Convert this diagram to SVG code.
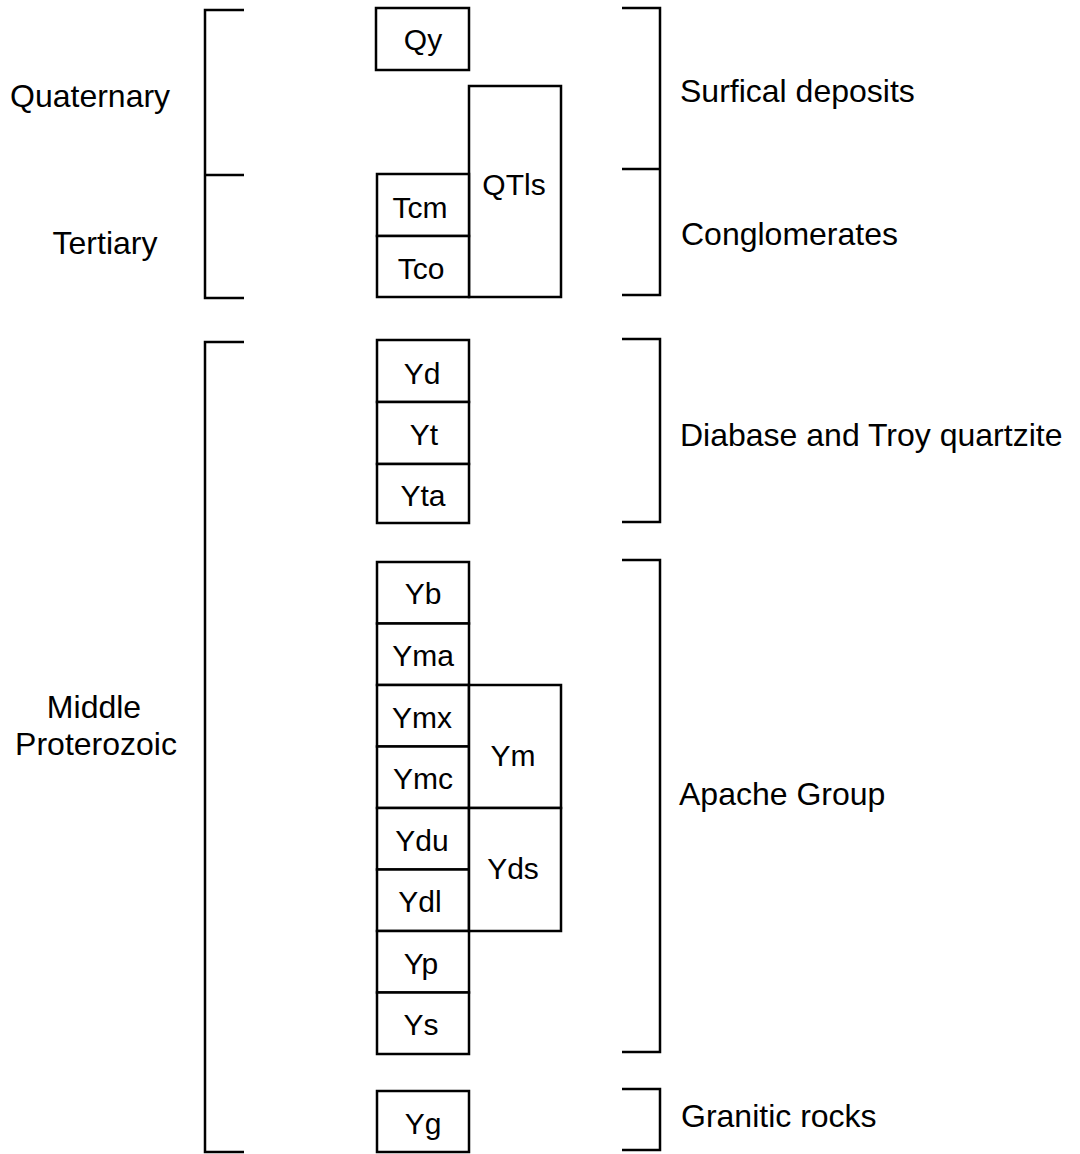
<svg xmlns="http://www.w3.org/2000/svg" width="1080" height="1154" viewBox="0 0 1080 1154">
<style>
  .box { fill: #ffffff; stroke: #000000; stroke-width: 2.5; }
  .br { fill: none; stroke: #000000; stroke-width: 2.5; }
  .u { font-family: "Liberation Sans", Arial, sans-serif; font-size: 30px; fill: #000000; text-anchor: middle; }
  .lbl { font-family: "Liberation Sans", Arial, sans-serif; font-size: 32px; fill: #000000; }
  .c { text-anchor: middle; }
</style>
<rect width="1080" height="1154" fill="#ffffff"/>

<g id="brackets">
  <path class="br" d="M244,10 H205 V298 H244 M205,175 H244"/>
  <path class="br" d="M244,342 H205 V1152 H244"/>
  <path class="br" d="M622,8 H660 V295 H622 M622,169 H660"/>
  <path class="br" d="M622,339 H660 V522 H622"/>
  <path class="br" d="M622,560 H660 V1052 H622"/>
  <path class="br" d="M622,1089 H660 V1150 H622"/>
</g>

<g id="era-labels">
  <text class="lbl" x="10" y="107">Quaternary</text>
  <text class="lbl c" x="105" y="254">Tertiary</text>
  <text class="lbl c" x="94" y="718">Middle</text>
  <text class="lbl c" x="96" y="755">Proterozoic</text>
</g>

<g id="group-labels">
  <text class="lbl" x="680" y="102">Surfical deposits</text>
  <text class="lbl" x="681" y="245">Conglomerates</text>
  <text class="lbl" x="680" y="446">Diabase and Troy quartzite</text>
  <text class="lbl" x="679" y="805">Apache Group</text>
  <text class="lbl" x="681" y="1127">Granitic rocks</text>
</g>

<g id="QTls"><rect class="box" x="469" y="86" width="92" height="211"/><text class="u" x="514" y="195">QTls</text></g>
<g id="Qy"><rect class="box" x="376" y="8" width="93" height="62"/><text class="u" x="423" y="50">Qy</text></g>
<g id="Tcm"><rect class="box" x="377" y="174" width="92" height="62"/><text class="u" x="420" y="218">Tcm</text></g>
<g id="Tco"><rect class="box" x="377" y="236" width="92" height="61"/><text class="u" x="421" y="279">Tco</text></g>

<g id="Yd"><rect class="box" x="377" y="340" width="92" height="62"/><text class="u" x="422" y="384">Yd</text></g>
<g id="Yt"><rect class="box" x="377" y="402" width="92" height="62"/><text class="u" x="424" y="445">Yt</text></g>
<g id="Yta"><rect class="box" x="377" y="464" width="92" height="59"/><text class="u" x="423" y="506">Yta</text></g>

<g id="Yb"><rect class="box" x="377" y="562" width="92" height="61.5"/><text class="u" x="423" y="604">Yb</text></g>
<g id="Yma"><rect class="box" x="377" y="623.5" width="92" height="61.5"/><text class="u" x="423" y="666">Yma</text></g>
<g id="Ymx"><rect class="box" x="377" y="685" width="92" height="61.5"/><text class="u" x="422" y="728">Ymx</text></g>
<g id="Ymc"><rect class="box" x="377" y="746.5" width="92" height="61.5"/><text class="u" x="423" y="789">Ymc</text></g>
<g id="Ydu"><rect class="box" x="377" y="808" width="92" height="61.5"/><text class="u" x="422" y="851">Ydu</text></g>
<g id="Ydl"><rect class="box" x="377" y="869.5" width="92" height="61.5"/><text class="u" x="420" y="912">Ydl</text></g>
<g id="Yp"><rect class="box" x="377" y="931" width="92" height="61.5"/><text class="u" x="421" y="974">Yp</text></g>
<g id="Ys"><rect class="box" x="377" y="992.5" width="92" height="61.5"/><text class="u" x="421" y="1035">Ys</text></g>
<g id="Ym"><rect class="box" x="469" y="685" width="92" height="123"/><text class="u" x="513" y="766">Ym</text></g>
<g id="Yds"><rect class="box" x="469" y="808" width="92" height="123"/><text class="u" x="513" y="879">Yds</text></g>

<g id="Yg"><rect class="box" x="377" y="1091" width="92" height="61"/><text class="u" x="423" y="1134">Yg</text></g>
</svg>
